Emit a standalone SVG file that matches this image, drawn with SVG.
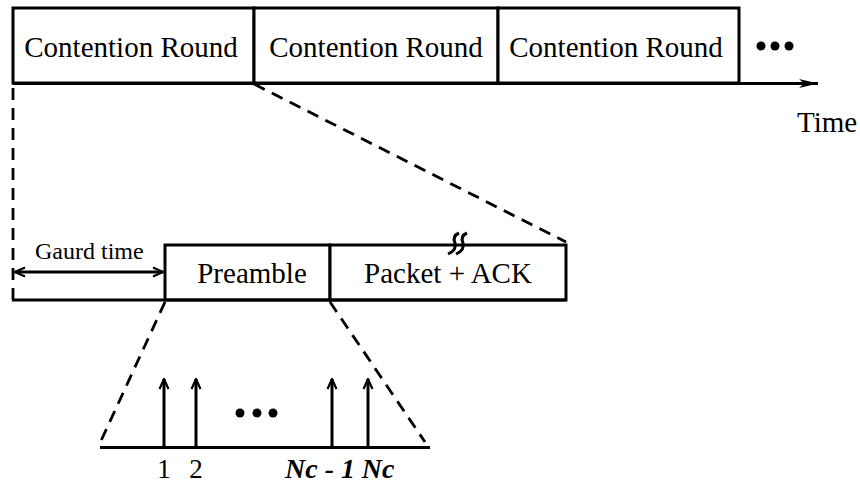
<svg xmlns="http://www.w3.org/2000/svg" width="860" height="484" viewBox="0 0 860 484">
<defs>
<style>
.box{fill:#fff;stroke:#000;stroke-width:3}
.ln{fill:none;stroke:#000;stroke-width:3}
.dash{fill:none;stroke:#000;stroke-width:2.8;stroke-dasharray:12 8}
.t{font-family:"Liberation Serif","Times New Roman",serif;fill:#000}
.lbl{font-size:29px}
.bi{font-weight:bold;font-style:italic}
</style>
<marker id="ah" viewBox="0 0 12 12" refX="11" refY="6" markerWidth="12" markerHeight="12" markerUnits="userSpaceOnUse" orient="auto-start-reverse">
<path d="M1,1.5 L11,6 L1,10.5" fill="none" stroke="#000" stroke-width="2.2"/>
</marker>
<marker id="ahf" viewBox="0 0 20 12" refX="19" refY="6" markerWidth="20" markerHeight="12" markerUnits="userSpaceOnUse" orient="auto">
<path d="M0,1.5 L19,6 L0,10.5 L5,6 Z" fill="#000"/>
</marker>
</defs>
<g id="top-rounds">
<rect class="box" x="13" y="8" width="241" height="75"/>
<rect class="box" x="254" y="8" width="244" height="75"/>
<rect class="box" x="498" y="8" width="241" height="75"/>
<text class="t lbl" x="131" y="57" text-anchor="middle">Contention Round</text>
<text class="t lbl" x="376" y="57" text-anchor="middle">Contention Round</text>
<text class="t lbl" x="616" y="57" text-anchor="middle">Contention Round</text>
<circle cx="761" cy="46" r="4.5"/>
<circle cx="775" cy="46" r="4.5"/>
<circle cx="789" cy="46" r="4.5"/>
</g>
<g id="time-axis">
<line class="ln" x1="13" y1="83.5" x2="818" y2="83.5" marker-end="url(#ahf)"/>
<text class="t lbl" x="797" y="132">Time</text>
</g>
<g id="lower-frame">
<rect class="box" x="165" y="245" width="165" height="55"/>
<rect class="box" x="330" y="245" width="236" height="55"/>
<line class="ln" x1="12" y1="300" x2="566" y2="300"/>
<text class="t lbl" x="252" y="283" text-anchor="middle">Preamble</text>
<text class="t lbl" x="448" y="283" text-anchor="middle">Packet + ACK</text>
<path class="ln" d="M459,233 Q452,236 455,243 Q457,250 448,254"/>
<path class="ln" d="M467,233 Q460,236 463,243 Q465,250 456,254"/>
</g>
<g id="gaurd-time">
<line class="ln" x1="15" y1="272" x2="163" y2="272" marker-start="url(#ah)" marker-end="url(#ah)"/>
<text class="t" font-size="24" x="35" y="259">Gaurd time</text>
</g>
<g id="preamble-detail">
<line class="ln" x1="100" y1="447.5" x2="430" y2="447.5"/>
<line class="ln" x1="164" y1="447" x2="164" y2="379" marker-end="url(#ah)"/>
<line class="ln" x1="196" y1="447" x2="196" y2="379" marker-end="url(#ah)"/>
<line class="ln" x1="332" y1="447" x2="332" y2="379" marker-end="url(#ah)"/>
<line class="ln" x1="368" y1="447" x2="368" y2="379" marker-end="url(#ah)"/>
<circle cx="240" cy="413" r="4.5"/>
<circle cx="257" cy="413" r="4.5"/>
<circle cx="273" cy="413" r="4.5"/>
<text class="t" font-size="27" x="164" y="478" text-anchor="middle">1</text>
<text class="t" font-size="27" x="196" y="478" text-anchor="middle">2</text>
<text class="t bi" font-size="28" x="320" y="478" text-anchor="middle">Nc - 1</text>
<text class="t bi" font-size="28" x="378" y="478" text-anchor="middle">Nc</text>
</g>
<g id="connectors">
<line class="dash" x1="13" y1="88" x2="13" y2="300"/>
<line class="dash" x1="254" y1="84" x2="566" y2="242"/>
<line class="dash" x1="165" y1="302" x2="100" y2="443"/>
<line class="dash" x1="330" y1="302" x2="425" y2="442"/>
</g>
</svg>
